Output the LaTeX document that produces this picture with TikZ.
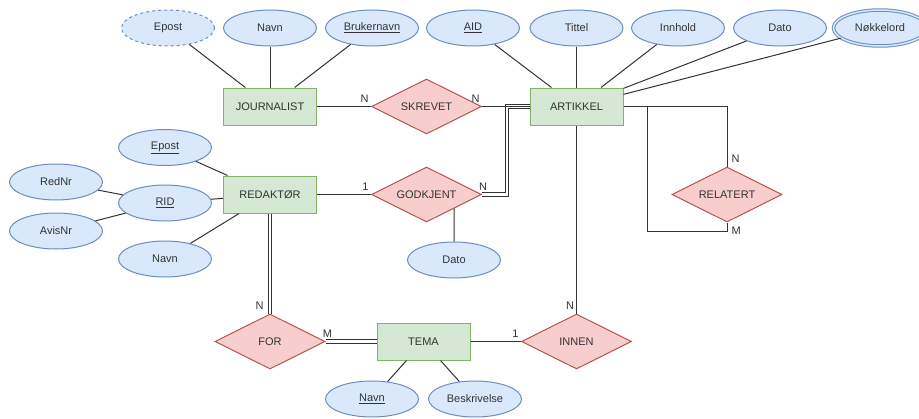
\documentclass[tikz,border=0pt]{standalone}
\usepackage{fontspec}
\setmainfont{Liberation Sans}
\usetikzlibrary{shapes.geometric, calc}
\definecolor{attrfill}{HTML}{DAE8FC}
\definecolor{attrline}{HTML}{6C8EBF}
\definecolor{entfill}{HTML}{D5E8D4}
\definecolor{entline}{HTML}{82B366}
\definecolor{relfill}{HTML}{F8CECC}
\definecolor{relline}{HTML}{B85450}
\definecolor{inkgray}{HTML}{333333}

\begin{document}
\begin{tikzpicture}[x=1pt, y=-1pt, font=\fontsize{11}{13}\selectfont, text=inkgray,
  entity/.style={draw=entline, fill=entfill, line width=1pt, minimum width=93pt, minimum height=37pt, inner sep=0pt},
  relation/.style={diamond, aspect=2, draw=relline, fill=relfill, line width=1pt, minimum width=110pt, minimum height=55pt, inner sep=0pt},
  attrib/.style={ellipse, draw=attrline, fill=attrfill, line width=1pt, minimum width=93pt, minimum height=36pt, inner sep=0pt},
  derived/.style={attrib, dash pattern=on 3pt off 3pt},
  multival/.style={attrib, double=attrfill, double distance=1.5pt},
  link/.style={draw=inkgray, line width=1pt},
  total/.style={draw=inkgray, line width=0.9pt, double=white, double distance=2.4pt},
  card/.style={inner xsep=2pt, inner ysep=3.5pt}]
  \path[use as bounding box, fill=white] (0,0) rectangle (919,418);

  % Journalist and its attributes
  \node[entity] (journalist) at (270,106.5) {JOURNALIST};
  \node[derived] (jepost) at (168,28) {Epost};
  \node[attrib] (jnavn) at (270,28) {Navn};
  \node[attrib] (brukernavn) at (372,28) {\underline{Brukernavn}};

  % Artikkel and its attributes
  \node[entity] (artikkel) at (576.5,106.5) {ARTIKKEL};
  \node[attrib] (aid) at (473,28) {\underline{AID}};
  \node[attrib] (tittel) at (576.5,28) {Tittel};
  \node[attrib] (innhold) at (678,28) {Innhold};
  \node[attrib] (adato) at (780,28) {Dato};
  \node[multival] (nokkelord) at (880,28) {Nøkkelord};

  % Redaktor and its attributes
  \node[entity] (redaktor) at (270,194.5) {REDAKTØR};
  \node[attrib] (repost) at (165,147.5) {\underline{Epost}};
  \node[attrib] (rid) at (165,203) {\underline{RID}};
  \node[attrib] (rnavn) at (165,259) {Navn};
  \node[attrib] (rednr) at (56,182) {RedNr};
  \node[attrib] (avisnr) at (56,231) {AvisNr};

  % Tema and its attributes
  \node[entity] (tema) at (423.5,341.5) {TEMA};
  \node[attrib] (tnavn) at (372,399) {\underline{Navn}};
  \node[attrib] (beskrivelse) at (475,399) {Beskrivelse};

  % Relationships
  \node[relation] (skrevet) at (426.5,106.5) {SKREVET};
  \node[relation] (godkjent) at (426.5,194.5) {GODKJENT};
  \node[attrib] (gdato) at (454,260) {Dato};
  \node[relation] (relatert) at (727,194.5) {RELATERT};
  \node[relation] (for) at (270,341.5) {FOR};
  \node[relation] (innen) at (576.5,341.5) {INNEN};

  % Attribute links
  \draw[link] (jepost) -- (journalist);
  \draw[link] (jnavn) -- (journalist);
  \draw[link] (brukernavn) -- (journalist);
  \draw[link] (aid) -- (artikkel);
  \draw[link] (tittel) -- (artikkel);
  \draw[link] (innhold) -- (artikkel);
  \draw[link] (adato) -- (artikkel);
  \draw[link] (nokkelord) -- (artikkel);
  \draw[link] (repost) -- (redaktor);
  \draw[link] (rid) -- (redaktor);
  \draw[link] (rnavn) -- (redaktor);
  \draw[link] (rednr) -- (rid);
  \draw[link] (avisnr) -- (rid);
  \draw[link] (tema) -- (tnavn);
  \draw[link] (tema) -- (beskrivelse);
  \draw[link] (godkjent.south east) -- (gdato);

  % Relationship links
  \draw[total] (godkjent.east) node[card, above, xshift=1pt]{N} -- ++(25,0) |- (artikkel.west);
  \draw[link] (journalist) -- node[card, pos=1, above left]{N} (skrevet);
  \draw[link] (skrevet) -- node[card, pos=0, above left]{N} (artikkel);
  \draw[link] (redaktor) -- node[card, pos=1, above left]{1} (godkjent);
  \draw[total] (redaktor) -- node[card, pos=1, above left, xshift=-4pt]{N} (for);
  \draw[total] (for) -- node[card, pos=0, above, xshift=2pt]{M} (tema);
  \draw[link] (tema) -- node[card, pos=1, above left]{1} (innen);
  \draw[link] (artikkel) -- node[card, pos=1, above left]{N} (innen);

  % Self relation on Artikkel
  \coordinate (selfjoin) at (647,106.5);
  \coordinate (selfloop) at (647,231);
  \draw[link] (artikkel.east) -| node[card, pos=1, above right, xshift=2pt]{N} (relatert.north);
  \draw[link] (selfjoin) -- (selfloop) -| node[card, pos=0.5, right, xshift=2pt]{M} (relatert.south);
\end{tikzpicture}
\end{document}
